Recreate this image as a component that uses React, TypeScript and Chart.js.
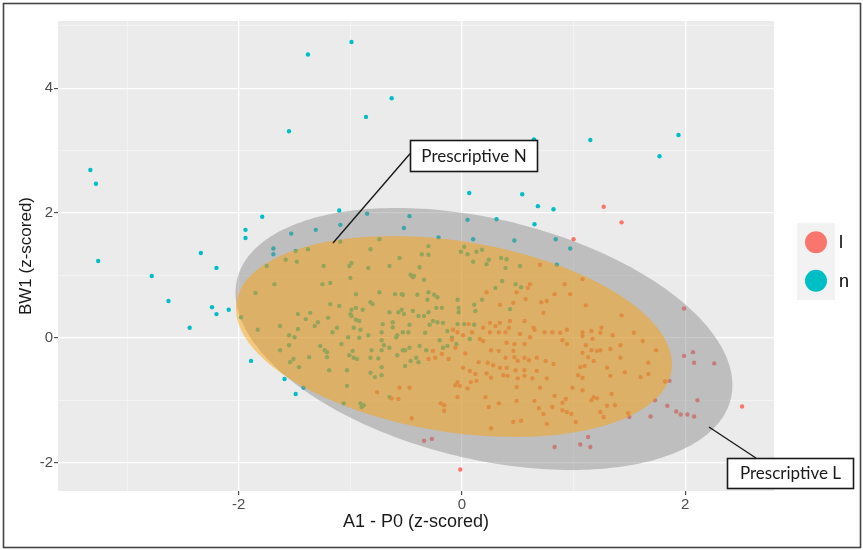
import React, { useEffect, useRef } from "react";
import { Chart, registerables } from "chart.js";

Chart.register(...registerables);

// ---------------- data ----------------
const groupLabels = ["l", "n"];
const groupColors = ["#F8766D", "#00BFC4"];

const xTitle = "A1 - P0 (z-scored)";
const yTitle = "BW1 (z-scored)";
const xRange = [-3.62, 2.796];
const yRange = [-2.455, 5.077];
const xTickLabels = [-2, 0, 2];
const yTickLabels = [-2, 0, 2, 4];

// group "n" (teal)
const seriesN: [number, number][] = [
  [-3.33, 2.69], [-3.28, 2.47], [-3.26, 1.23], [-2.78, 0.99], [-2.63, 0.59], [-2.44, 0.16], [-2.34, 1.36],
  [-2.2, 1.12], [-2.24, 0.49], [-2.2, 0.38], [-2.09, 0.45], [-1.94, 1.73], [-1.94, 1.6], [-1.79, 1.94],
  [-1.89, -0.37], [-1.59, -0.66], [-1.49, -0.9], [-1.42, -0.8], [-1.53, 1.67], [-1.38, 4.54], [-0.99, 4.74],
  [-0.63, 3.84], [-0.86, 3.54], [-1.55, 3.31], [0.645, 3.18], [1.15, 3.17], [1.77, 2.91], [1.94, 3.25],
  [0.065, 2.32], [0.54, 2.3], [0.68, 2.11], [0.82, 2.06], [-1.1, 2.04], [-0.85, 1.99], [-0.47, 1.95],
  [0.05, 1.89], [0.31, 1.9], [0.65, 1.82], [-1.09, 1.81], [-0.52, 1.76], [-1.31, 1.73], [-0.21, 1.61],
  [0.1, 1.58], [0.47, 1.56], [0.84, 1.58], [0.97, 1.43], [-1.69, 1.43], [-1.69, 1.34], [0.85, 1.17],
  [-1.09, 1.54], [-0.74, 1.58], [-0.82, 1.42], [-1.38, 1.42], [-1.49, 1.39], [-1.58, 1.25], [-1.48, 1.22],
  [-1.75, 1.15], [-1.24, 1.15], [-1.01, 1.15], [-0.99, 1.2], [-0.84, 1.12], [-0.65, 1.15], [-1.0, 0.96],
  [-1.68, 0.86], [-1.25, 0.86], [-1.18, 0.88], [-1.85, 0.72], [-0.95, 0.7], [-0.74, 0.73], [-0.6, 0.7],
  [-0.54, 0.7], [-1.18, 0.54], [-1.1, 0.51], [-0.82, 0.57], [-0.8, 0.54], [-0.95, 0.48], [-0.99, 0.45],
  [-0.89, 0.45], [-0.65, 0.41], [-1.47, 0.38], [-1.36, 0.4], [-1.4, 0.3], [-1.0, 0.38], [-0.99, 0.35],
  [-0.95, 0.29], [-0.92, 0.27], [-1.2, 0.32], [-1.29, 0.25], [-1.32, 0.19], [-1.98, 0.33], [-1.63, 0.19],
  [-1.83, 0.13], [-1.47, 0.14], [-1.12, 0.16], [-1.16, 0.09], [-0.97, 0.16], [-0.91, 0.13], [-0.71, 0.22],
  [-0.62, 0.25], [-0.62, 0.17], [-0.57, 0.41], [-0.54, 0.45], [-1.02, 0.01], [-0.84, 0.04], [-0.72, 0.09],
  [-0.58, 0.04], [-1.63, -0.2], [-1.55, -0.12], [-1.5, 0.01], [-1.55, 0.04], [-1.27, -0.13], [-1.23, -0.2],
  [-1.21, -0.23], [-1.21, -0.31], [-1.37, -0.31], [-1.51, -0.34], [-1.54, -0.39], [-1.46, -0.47],
  [-1.19, -0.52], [-1.08, -0.1], [-0.92, 0.0], [-0.98, -0.21], [-1.01, -0.28], [-0.97, -0.32],
  [-0.94, -0.34], [-1.03, -0.52], [-1.03, -0.77], [-1.06, -1.05], [-0.91, -1.05], [-0.9, -1.11],
  [-0.88, -1.08], [-0.82, -0.56], [-0.78, -0.63], [-0.72, -0.6], [-0.72, -0.47], [-0.82, -0.32],
  [-0.75, -0.33], [-0.81, -0.2], [-0.72, -0.2], [-0.7, -0.12], [-0.72, -0.04], [-0.65, -0.16], [-0.59, 0.01],
  [-0.58, -0.28], [-0.53, -0.2], [-0.65, -0.95], [-0.3, 1.47], [-0.36, 1.34], [-0.3, 1.33], [0.02, 1.46],
  [-0.01, 1.38], [0.05, 1.34], [0.13, 1.38], [0.18, 1.41], [0.1, 1.22], [0.22, 1.18], [0.24, 1.25],
  [0.35, 1.28], [0.4, 1.26], [0.39, 1.12], [0.52, 1.15], [-0.38, 1.13], [-0.46, 1.01], [-0.44, 0.97],
  [-0.43, 0.99], [-0.34, 0.93], [-0.56, 1.28], [-0.53, 0.69], [-0.4, 0.69], [-0.3, 0.73], [-0.25, 0.69],
  [-0.22, 0.65], [-0.31, 0.61], [-0.52, 0.38], [-0.44, 0.43], [-0.39, 0.35], [-0.34, 0.35], [-0.3, 0.41],
  [-0.23, 0.48], [-0.18, 0.48], [-0.04, 0.61], [-0.03, 0.48], [-0.03, 0.41], [0.11, 0.53], [0.12, 0.43],
  [0.18, 0.61], [0.3, 0.8], [0.36, 0.91], [0.48, 0.86], [0.53, 0.81], [0.43, 0.46], [-0.26, 0.27],
  [-0.22, 0.25], [-0.17, 0.24], [-0.29, 0.21], [-0.47, 0.21], [-0.53, 0.09], [-0.48, 0.09], [-0.33, 0.08],
  [-0.13, 0.11], [-0.04, 0.22], [0.02, 0.22], [0.11, 0.21], [-0.51, -0.2], [-0.47, -0.16], [-0.38, -0.13],
  [-0.32, -0.2], [-0.41, -0.32], [-0.46, -0.37], [-0.39, -0.39], [-0.51, -0.45], [-0.2, -0.04],
  [-0.17, -0.16], [-0.13, -0.13], [-0.05, -0.1], [0.07, -0.02], [-0.09, 0.0],
];

// group "l" (red)
const seriesL: [number, number][] = [
  [1.27, 2.1], [1.43, 1.85], [1.0, 1.58], [1.99, 0.47], [-0.34, -1.65], [-0.27, -1.62], [0.83, -1.75],
  [-0.015, -2.11], [1.99, -0.29], [2.07, -0.23], [2.08, -0.4], [2.26, -0.41], [1.86, -0.69], [1.82, -0.7],
  [2.11, -1.0], [1.84, -1.09], [1.92, -1.18], [1.96, -1.23], [2.02, -1.23], [2.08, -1.26], [1.69, -1.26],
  [2.51, -1.1], [1.13, -1.59], [1.06, -1.71], [1.15, -1.75], [1.73, -1.0], [1.5, -1.27],
  [-0.76, -0.87], [-0.63, -0.97], [-0.57, -0.98], [-0.56, -0.8], [0.7, 1.17], [0.61, 0.86], [0.59, 0.8],
  [0.49, 0.73], [0.22, 0.73], [0.34, 0.53], [0.46, 0.56], [0.57, 0.62], [0.71, 0.57], [0.76, 0.59],
  [0.83, 0.7], [0.92, 0.86], [0.97, 0.7], [0.73, 0.4], [0.56, 0.27], [0.43, 0.27], [0.34, 0.24],
  [0.3, 0.19], [0.25, 0.24], [0.42, 0.16], [0.39, 0.09], [0.33, 0.09], [0.25, 0.09], [0.19, 0.16],
  [0.06, 0.22], [0.09, 0.09], [0.01, 0.04], [-0.04, 0.09], [-0.08, 0.13], [-0.09, -0.03], [0.64, 0.16],
  [0.65, 0.13], [0.74, 0.09], [0.81, 0.09], [0.88, 0.08], [0.94, 0.13], [0.52, 0.06], [0.61, 0.01],
  [1.08, 0.94], [1.11, 0.52], [1.43, 0.36], [1.54, 0.08], [1.25, 0.16], [1.24, 0.08], [1.16, 0.11],
  [1.08, 0.09], [1.35, 0.04], [1.08, 0.03], [1.74, -0.2], [1.67, -0.4], [1.6, -0.63], [1.17, -0.02],
  [1.11, -0.12], [1.16, -0.2], [1.08, -0.24], [1.13, -0.31], [1.21, -0.21], [1.24, -0.2], [1.33, -0.18],
  [1.42, -0.12], [1.62, -0.05], [1.42, -0.32], [1.06, -0.47], [1.1, -0.45], [1.18, -0.37], [1.3, -0.48],
  [1.46, -0.55], [1.67, -0.58], [1.04, -0.6], [1.08, -0.64], [1.33, -0.61], [0.99, -0.8], [1.08, -0.84],
  [1.34, -0.9], [1.18, -0.95], [1.21, -0.97], [1.16, -1.0], [1.3, -1.09], [1.37, -1.08], [1.24, -1.19],
  [1.49, -1.21], [1.27, -1.27], [1.02, -1.35], [-0.26, -0.21], [-0.3, -0.34], [-0.24, -0.32],
  [-0.18, -0.26], [-0.12, -0.34], [-0.06, -0.16], [0.03, -0.25], [0.16, -0.02], [0.19, -0.05],
  [0.26, -0.2], [0.33, -0.21], [0.4, -0.08], [0.47, -0.1], [0.56, -0.1], [0.46, -0.21], [0.39, -0.32],
  [0.47, -0.31], [0.56, -0.32], [0.5, -0.37], [0.6, -0.36], [0.67, -0.32], [0.75, -0.37], [0.82, -0.42],
  [0.94, -0.1], [0.9, -0.04], [0.15, -0.39], [0.23, -0.4], [0.28, -0.44], [0.34, -0.48], [0.4, -0.48],
  [0.48, -0.52], [0.56, -0.52], [0.01, -0.48], [0.07, -0.53], [0.12, -0.58], [0.22, -0.57], [0.26, -0.64],
  [0.37, -0.6], [0.41, -0.61], [0.5, -0.65], [0.49, -0.79], [0.56, -0.61], [0.63, -0.65], [0.67, -0.53],
  [0.76, -0.65], [0.7, -0.8], [-0.47, -0.8], [-0.04, -0.71], [-0.02, -0.77], [-0.06, -0.76], [0.05, -0.81],
  [0.08, -0.71], [0.13, -0.69], [-0.04, -0.95], [0.21, -0.95], [0.33, -1.05], [0.49, -1.01], [0.24, -1.11],
  [-0.19, -1.05], [-0.16, -1.08], [-0.16, -1.17], [-0.45, -1.29], [0.83, -0.93], [0.9, -1.04],
  [0.93, -0.98], [0.65, -1.01], [0.69, -1.13], [0.73, -1.22], [0.81, -1.11], [0.9, -1.16], [0.94, -1.19],
  [0.53, -1.33], [0.46, -1.35], [0.76, -1.38], [0.26, -1.45], [0.98, -1.22],
];

// stat ellipses: centre and conjugate semi-axis vectors (data units)
const ellipseNames = ["Prescriptive L", "Prescriptive N"];
const ellipseFills = ["rgba(135,135,135,0.45)", "rgba(255,162,0,0.46)"];
const ellipseCenter = [[0.197, -0.019], [-0.072, 0.021]];
const ellipseAxisU = [[2.212, -0.957], [1.949, -0.554]];
const ellipseAxisV = [[-0.253, -1.869], [-0.134, -1.511]];

// callout labels (data-unit anchors)
const calloutText = ["Prescriptive N", "Prescriptive L"];
const calloutBoxCorner = [[-0.466, 3.17], [2.375, -1.926]];
const calloutTip = [[-1.156, 1.52], [2.213, -1.43]];
const calloutBase = [[-0.466, 2.95], [2.634, -1.926]];

// ---------------- styling ----------------
const FONT = "'Liberation Sans', Arial, sans-serif";
const CALLOUT_FONT = "Lato, 'Open Sans', sans-serif";
const CALLOUT_BOX = [[127, 31], [126, 30]];

const decorPlugin = {
  id: "decor",
  beforeDraw(chart: any) {
    const { ctx, chartArea: a } = chart;
    ctx.save();
    ctx.fillStyle = "#FFFFFF";
    ctx.fillRect(0, 0, chart.width, chart.height);
    ctx.fillStyle = "#EBEBEB";
    ctx.fillRect(a.left, a.top, a.right - a.left, a.bottom - a.top);
    ctx.restore();
  },
  afterDatasetsDraw(chart: any) {
    const { ctx, chartArea: a } = chart;
    const xs = chart.scales.x;
    const ys = chart.scales.y;
    ctx.save();
    ctx.beginPath();
    ctx.rect(a.left, a.top, a.right - a.left, a.bottom - a.top);
    ctx.clip();
    ellipseNames.forEach((_, i) => {
      const [cx, cy] = ellipseCenter[i];
      const [ux, uy] = ellipseAxisU[i];
      const [vx, vy] = ellipseAxisV[i];
      ctx.beginPath();
      for (let k = 0; k <= 240; k++) {
        const t = (k / 240) * Math.PI * 2;
        const dx = cx + ux * Math.cos(t) + vx * Math.sin(t);
        const dy = cy + uy * Math.cos(t) + vy * Math.sin(t);
        const px = xs.getPixelForValue(dx);
        const py = ys.getPixelForValue(dy);
        if (k === 0) ctx.moveTo(px, py);
        else ctx.lineTo(px, py);
      }
      ctx.closePath();
      ctx.fillStyle = ellipseFills[i];
      ctx.fill();
    });
    ctx.restore();
  },
  afterDraw(chart: any) {
    const { ctx, chartArea: a } = chart;
    const xs = chart.scales.x;
    const ys = chart.scales.y;
    ctx.save();
    // callouts
    calloutText.forEach((text, i) => {
      const bx = Math.round(xs.getPixelForValue(calloutBoxCorner[i][0]));
      const by = Math.round(ys.getPixelForValue(calloutBoxCorner[i][1]));
      const [w, h] = CALLOUT_BOX[i];
      ctx.strokeStyle = "#1A1A1A";
      ctx.lineWidth = 1.4;
      ctx.beginPath();
      ctx.moveTo(xs.getPixelForValue(calloutBase[i][0]), ys.getPixelForValue(calloutBase[i][1]));
      ctx.lineTo(xs.getPixelForValue(calloutTip[i][0]), ys.getPixelForValue(calloutTip[i][1]));
      ctx.stroke();
      ctx.fillStyle = "#FFFFFF";
      ctx.fillRect(bx, by, w, h);
      ctx.lineWidth = 1.6;
      ctx.strokeRect(bx + 0.5, by + 0.5, w, h);
      ctx.fillStyle = "#1A1A1A";
      ctx.font = `17px ${CALLOUT_FONT}`;
      ctx.textAlign = "center";
      ctx.textBaseline = "middle";
      ctx.fillText(text, bx + w / 2 + 0.5, by + h / 2 + 1);
    });
    // legend
    const keyX = a.right + 23;
    const keyW = 38;
    const keyH = 38.5;
    const keyTop = (a.top + a.bottom) / 2 - 33;
    ctx.fillStyle = "#F2F2F2";
    ctx.fillRect(keyX, keyTop, keyW, keyH * groupLabels.length);
    groupLabels.forEach((lab, i) => {
      const cy = keyTop + keyH * i + keyH / 2;
      ctx.beginPath();
      ctx.arc(keyX + keyW / 2, cy, 11, 0, Math.PI * 2);
      ctx.fillStyle = groupColors[i];
      ctx.fill();
      ctx.fillStyle = "#000000";
      ctx.font = `18px ${FONT}`;
      ctx.textAlign = "left";
      ctx.textBaseline = "middle";
      ctx.fillText(lab, keyX + keyW + 4, cy + 1);
    });
    // outer frame
    ctx.strokeStyle = "#444444";
    ctx.lineWidth = 1.6;
    ctx.strokeRect(3.5, 3.5, chart.width - 6, chart.height - 6);
    ctx.restore();
  },
};

function gridOpts(labels: number[]) {
  const major = (c: any) => c.tick && labels.includes(c.tick.value);
  return {
    color: (c: any) => (major(c) ? "#FFFFFF" : "rgba(255,255,255,0.6)"),
    lineWidth: (c: any) => (major(c) ? 1.3 : 0.7),
    tickColor: (c: any) => (major(c) ? "#333333" : "rgba(0,0,0,0)"),
    tickLength: 4,
    tickWidth: 1,
    drawTicks: true,
  };
}

export default function App() {
  const ref = useRef<HTMLCanvasElement>(null);
  useEffect(() => {
    const canvas = ref.current;
    if (!canvas) return;
    const chart = new Chart(canvas, {
      type: "scatter",
      data: {
        datasets: [
          {
            label: groupLabels[0],
            data: seriesL.map(([x, y]) => ({ x, y })),
            backgroundColor: groupColors[0],
            pointRadius: 2.2,
            borderWidth: 0,
          },
          {
            label: groupLabels[1],
            data: seriesN.map(([x, y]) => ({ x, y })),
            backgroundColor: groupColors[1],
            pointRadius: 2.2,
            borderWidth: 0,
          },
        ],
      },
      options: {
        animation: false,
        responsive: false,
        devicePixelRatio: 1,
        layout: { padding: { top: 21, right: 89, left: 0, bottom: 0 } },
        plugins: { legend: { display: false }, tooltip: { enabled: false } },
        scales: {
          x: {
            type: "linear",
            min: xRange[0],
            max: xRange[1],
            afterFit: (s: any) => {
              s.height = 59;
            },
            border: { display: false },
            grid: gridOpts(xTickLabels),
            ticks: {
              stepSize: 1,
              includeBounds: false,
              autoSkip: false,
              maxRotation: 0,
              padding: 1,
              color: "#4D4D4D",
              font: { family: FONT, size: 15 },
              callback: (v: any) => (xTickLabels.includes(v) ? String(v) : ""),
            },
            title: {
              display: true,
              text: xTitle,
              color: "#1A1A1A",
              font: { family: FONT, size: 18 },
              padding: { top: 0, bottom: 17.5 },
            },
          },
          y: {
            type: "linear",
            min: yRange[0],
            max: yRange[1],
            afterFit: (s: any) => {
              s.width = 58;
            },
            border: { display: false },
            grid: gridOpts(yTickLabels),
            ticks: {
              stepSize: 1,
              includeBounds: false,
              autoSkip: false,
              padding: 1,
              color: "#4D4D4D",
              font: { family: FONT, size: 15 },
              callback: (v: any) => (yTickLabels.includes(v) ? String(v) : ""),
            },
            title: {
              display: true,
              text: yTitle,
              color: "#1A1A1A",
              font: { family: FONT, size: 17 },
              padding: { top: 16.5, bottom: 0 },
            },
          },
        },
      },
      plugins: [decorPlugin],
    } as any);
    return () => chart.destroy();
  }, []);
  return (
    <div style={{ position: "absolute", left: 0, top: 0, width: 863, height: 550, background: "#FFFFFF" }}>
      <canvas ref={ref} width={863} height={550} style={{ display: "block", width: 863, height: 550 }} />
    </div>
  );
}
